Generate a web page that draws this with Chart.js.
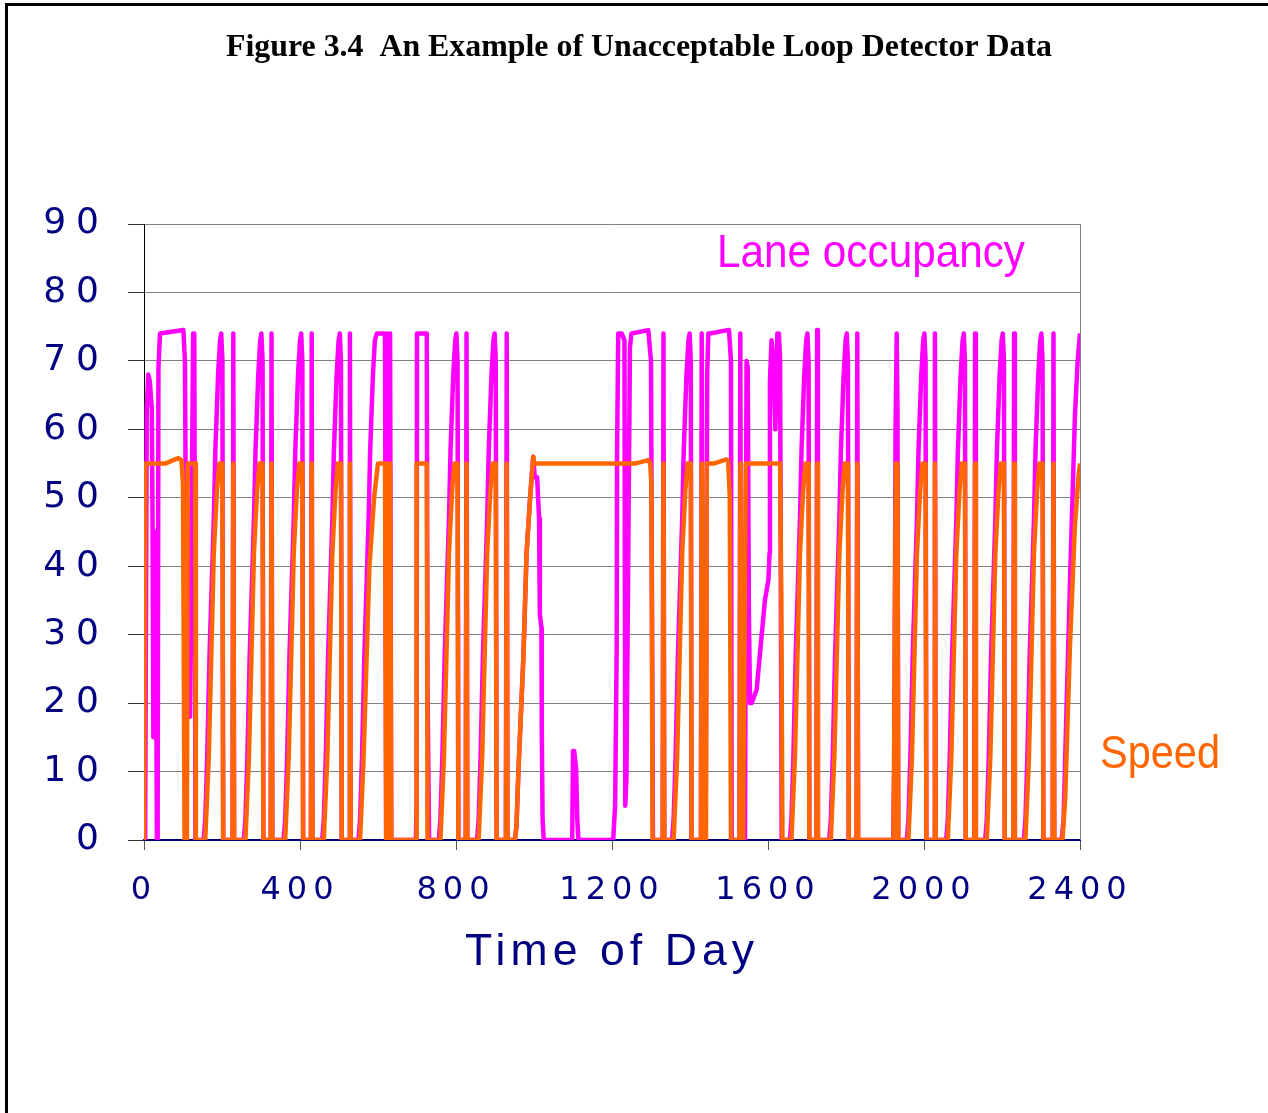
<!DOCTYPE html>
<html>
<head>
<meta charset="utf-8">
<script src="https://cdn.jsdelivr.net/npm/chart.js@4.4.0/dist/chart.umd.min.js"></script>
<style>
  html, body { margin: 0; padding: 0; background: #fff; }
  #wrap { position: relative; width: 1268px; height: 1113px; }
</style>
</head>
<body>
<div id="wrap"><canvas id="loopChart" width="1268" height="1113"></canvas></div>
<script>
// time of day, value
const occupancy = [
  [0,0],[3,0],[7,63],[11,68],[15,67],[20,63],[22,45],[24,15],[26,45],[28,15],[30,45],[32,15],[33,0],[35,0],[37,69],[41,74],[101,74.5],[105,70],[110,19],[118,18],[126,74],[129,74],[132,0],
  [153,0],[157,3],[162,12],[168,27],[179,47],[183,57],[190,68],[195,73],[198,74],[201,70],[203,0],
  [227,0],[229,74],[231,0],
  [256,0],[260,3],[265,12],[271,27],[282,47],[286,57],[293,68],[298,73],[301,74],[304,70],[306,0],
  [325,0],[327,74],[329,0],
  [358,0],[362,3],[367,12],[373,27],[384,47],[388,57],[395,68],[400,73],[403,74],[406,70],[408,0],
  [428,0],[430,74],[432,0],
  [457,0],[461,3],[466,12],[472,27],[483,47],[487,57],[494,68],[499,73],[502,74],[505,70],[507,0],
  [526,0],[528,74],[530,0],
  [550,0],[554,3],[559,12],[565,27],[576,47],[580,57],[587,68],[592,73],[597,74],[618,74],[621,0],[624,74],[628,0],[631,74],[634,0],
  [697,0],[699,5],[700,74],[725,74],[727,22],[731,0],
  [756,0],[760,3],[765,12],[771,27],[782,47],[786,57],[793,68],[798,73],[801,74],[804,70],[806,0],
  [825,0],[827,74],[829,0],
  [854,0],[858,3],[863,12],[869,27],[880,47],[884,57],[891,68],[896,73],[899,74],[902,70],[904,0],
  [928,0],[930,74],[932,0],
  [951,0],[955,2],[960,10],[973,27],[981,42],[990,50],[994,53],[998,56],[1002,53],[1008,53],[1013,47],[1015,33],[1019,31],[1020,16],[1022,3],[1025,0],
  [1098,0],[1100,13],[1103,13],[1108,10.5],[1111,3],[1114,0],
  [1203,0],[1208,5],[1212,28],[1213,57],[1216,74],[1225,74],[1232,73],[1234,5],[1237,9],[1242,44],[1246,72],[1250,74],[1293,74.5],[1300,70],[1305,0],
  [1330,0],[1332,74],[1334,0],
  [1354,0],[1358,3],[1363,12],[1369,27],[1380,47],[1384,57],[1391,68],[1396,73],[1399,74],[1402,70],[1404,0],
  [1428,0],[1430,74],[1432,0],
  [1440,0],[1444,68],[1447,74],[1451,74],[1496,74.5],[1500,74.5],[1505,70],[1507,0],
  [1527,0],[1529,74],[1531,0],
  [1541,0],[1545,70],[1548,69],[1551,33],[1554,20],[1558,20],[1571,22],[1579,27],[1592,35],[1601,38],[1604,42],[1605,67],[1609,73],[1614,70],[1619,60],[1624,74],[1628,74],[1631,70],[1635,0],
  [1656,0],[1660,3],[1665,12],[1671,27],[1682,47],[1686,57],[1693,68],[1698,73],[1701,74],[1704,70],[1706,0],
  [1724,0],[1726,74.5],[1728,0],
  [1757,0],[1761,3],[1766,12],[1772,27],[1783,47],[1787,57],[1794,68],[1799,73],[1802,74],[1805,70],[1807,0],
  [1827,0],[1829,74],[1831,0],
  [1921,0],[1924,12],[1927,60],[1930,74],[1932,63],[1934,0],
  [1956,0],[1960,3],[1965,12],[1971,27],[1982,47],[1986,57],[1993,68],[1998,73],[2001,74],[2004,70],[2006,0],
  [2026,0],[2028,74],[2030,0],
  [2057,0],[2061,3],[2066,12],[2072,27],[2083,47],[2087,57],[2094,68],[2099,73],[2102,74],[2105,70],[2107,0],
  [2129,0],[2131,74],[2133,0],
  [2157,0],[2161,3],[2166,12],[2172,27],[2183,47],[2187,57],[2194,68],[2199,73],[2202,74],[2205,70],[2207,0],
  [2229,0],[2231,74],[2233,0],
  [2256,0],[2260,3],[2265,12],[2271,27],[2282,47],[2286,57],[2293,68],[2298,73],[2301,74],[2304,70],[2306,0],
  [2330,0],[2332,74],[2334,0],
  [2353,0],[2358,3],[2362,12],[2374,37],[2387,62],[2394,70],[2400,74]
];

const speed = [
  [0,0],[2,0],[3,55],[54,55],[88,55.8],[96,55.5],[100,52],[104,0],[110,0],[112,55],[131,55],[133,0],
  [157,0],[166,12],[179,42],[187,51],[193,55],[201,55],[203,0],
  [227,0],[229,55],[231,0],
  [260,0],[269,12],[282,42],[290,51],[296,55],[304,55],[306,0],
  [325,0],[327,55],[329,0],
  [362,0],[371,12],[384,42],[392,51],[398,55],[406,55],[408,0],
  [428,0],[430,55],[432,0],
  [461,0],[470,12],[483,42],[491,51],[497,55],[505,55],[507,0],
  [526,0],[528,55],[530,0],
  [554,0],[563,12],[578,40],[590,50],[596,53],[600,55],[618,55],[621,0],[624,55],[628,0],[631,55],[634,0],
  [698,0],[699,55],[725,55],[727,0],
  [760,0],[769,12],[782,42],[790,51],[796,55],[804,55],[806,0],
  [825,0],[827,55],[829,0],
  [858,0],[867,12],[880,42],[888,51],[894,55],[902,55],[904,0],
  [928,0],[930,55],[932,0],
  [951,0],[955,2],[960,10],[973,27],[981,42],[990,50],[994,53],[998,56],[1001,55],[1259,55],[1293,55.5],[1298,55],[1301,52],[1304,0],
  [1330,0],[1332,55],[1334,0],
  [1358,0],[1367,12],[1380,42],[1388,51],[1394,55],[1402,55],[1404,0],
  [1428,0],[1430,55],[1432,0],
  [1441,0],[1443,55],[1460,55],[1494,55.6],[1498,55.4],[1502,50],[1505,0],
  [1527,0],[1529,55],[1531,0],
  [1536,0],[1543,55],[1631,55],[1634,36],[1637,0],
  [1660,0],[1669,12],[1682,42],[1690,51],[1696,55],[1704,55],[1706,0],
  [1724,0],[1726,55],[1728,0],
  [1761,0],[1770,12],[1783,42],[1791,51],[1797,55],[1805,55],[1807,0],
  [1827,0],[1829,55],[1831,0],
  [1922,0],[1925,30],[1928,55],[1932,55],[1934,0],
  [1960,0],[1969,12],[1982,42],[1990,51],[1996,55],[2004,55],[2006,0],
  [2026,0],[2028,55],[2030,0],
  [2061,0],[2070,12],[2083,42],[2091,51],[2097,55],[2105,55],[2107,0],
  [2129,0],[2131,55],[2133,0],
  [2161,0],[2170,12],[2183,42],[2191,51],[2197,55],[2205,55],[2207,0],
  [2229,0],[2231,55],[2233,0],
  [2260,0],[2269,12],[2282,42],[2290,51],[2296,55],[2304,55],[2306,0],
  [2330,0],[2332,55],[2334,0],
  [2355,0],[2362,6],[2374,28],[2387,46],[2396,53],[2400,55]
];

const xTicks = [0, 400, 800, 1200, 1600, 2000, 2400];
const yTicks = [0, 10, 20, 30, 40, 50, 60, 70, 80, 90];

const navy = "#000080";

// draw a line of text squeezed/stretched to a given width
function drawFitted(ctx, text, font, color, left, baseline, width, spacing) {
  ctx.save();
  ctx.font = font;
  ctx.letterSpacing = spacing + "px";
  ctx.fillStyle = color;
  ctx.textAlign = "left";
  ctx.textBaseline = "alphabetic";
  const w = ctx.measureText(text).width - spacing;
  ctx.translate(left, baseline);
  ctx.scale(width / w, 1);
  ctx.fillText(text, 0, 0);
  ctx.restore();
}

const figureText = {
  id: "figureText",
  beforeDraw(chart) {
    const ctx = chart.ctx;
    ctx.save();
    ctx.fillStyle = "#fff";
    ctx.fillRect(0, 0, chart.width, chart.height);
    ctx.fillStyle = "#000";
    ctx.fillRect(5, 3, chart.width - 5, 3);
    ctx.fillRect(5, 3, 3, chart.height - 3);
    ctx.restore();
    ctx.letterSpacing = "10px"; // y tick labels are widely spaced
  },
  beforeDatasetsDraw(chart) {
    const { ctx, chartArea: a } = chart;
    ctx.letterSpacing = "0px";
    ctx.save();
    ctx.strokeStyle = "#808080";
    ctx.lineWidth = 1;
    ctx.beginPath();
    ctx.moveTo(a.right + 0.5, a.top);
    ctx.lineTo(a.right + 0.5, a.bottom);
    ctx.stroke();
    ctx.restore();
  },
  afterDatasetsDraw(chart) {
    chart.ctx.letterSpacing = "6px"; // x tick labels
  },
  afterDraw(chart) {
    const ctx = chart.ctx;
    ctx.letterSpacing = "0px";
    drawFitted(ctx, "Figure 3.4  An Example of Unacceptable Loop Detector Data",
      "bold 32px 'Liberation Serif'", "#000", 226, 56, 826, 0);
    drawFitted(ctx, "Lane occupancy", "47px 'Liberation Sans'", "#ff00ff", 717, 267, 308, 0);
    drawFitted(ctx, "Speed", "47px 'Liberation Sans'", "#ff6600", 1100, 768, 120, 0);
    drawFitted(ctx, "Time of Day", "44px 'Liberation Sans'", navy, 465, 965, 289, 5);
  }
};

new Chart(document.getElementById("loopChart"), {
  type: "line",
  data: {
    datasets: [
      {
        label: "Lane occupancy",
        data: occupancy.map(p => ({ x: p[0], y: p[1] })),
        borderColor: "#ff00ff",
        borderWidth: 4.5,
        pointRadius: 0,
        tension: 0,
        borderJoinStyle: "round",
        order: 2
      },
      {
        label: "Speed",
        data: speed.map(p => ({ x: p[0], y: p[1] })),
        borderColor: "#ff6600",
        borderWidth: 4.5,
        pointRadius: 0,
        tension: 0,
        borderJoinStyle: "round",
        order: 1
      }
    ]
  },
  options: {
    responsive: false,
    animation: false,
    devicePixelRatio: 1,
    layout: { padding: { left: 0, right: 188, top: 224, bottom: 0 } },
    plugins: {
      legend: { display: false },
      tooltip: { enabled: false },
      title: { display: false }
    },
    scales: {
      x: {
        type: "linear",
        min: 0,
        max: 2400,
        afterBuildTicks: s => { s.ticks = xTicks.map(v => ({ value: v })); },
        afterFit: s => { s.height = 273; },
        grid: { drawOnChartArea: false, drawTicks: true, tickLength: 10, tickColor: "#555" },
        border: { color: navy, width: 2 },
        ticks: {
          color: navy,
          font: { family: "DejaVu Sans", size: 32 },
          padding: 21,
          z: 1,
          maxRotation: 0,
          autoSkip: false,
          callback: v => String(v)
        }
      },
      y: {
        min: 0,
        max: 90,
        afterBuildTicks: s => { s.ticks = yTicks.map(v => ({ value: v })); },
        afterFit: s => { s.width = 144; },
        grid: { color: "#808080", tickColor: "#333", tickLength: 16, lineWidth: 1 },
        border: { color: "#000", width: 1 },
        ticks: {
          color: navy,
          font: { family: "DejaVu Sans", size: 36 },
          padding: 19,
          callback: v => String(v)
        }
      }
    }
  },
  plugins: [figureText]
});
</script>
</body>
</html>
